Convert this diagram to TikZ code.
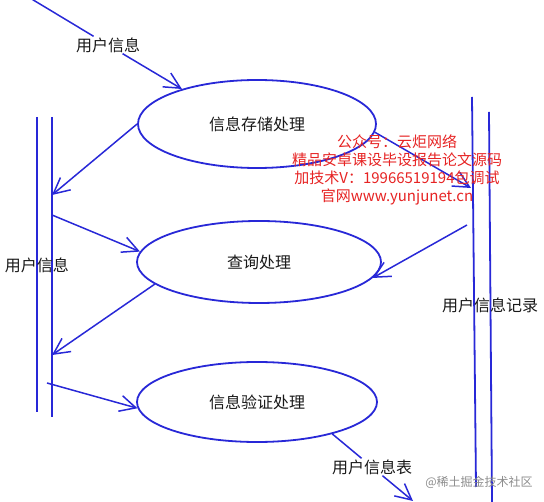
\documentclass[tikz,border=0pt]{standalone}
\usepackage{fontspec}
\usetikzlibrary{shapes.geometric,arrows.meta}
\newfontfamily\cjkfont{Noto Sans CJK SC}
\definecolor{flowblue}{RGB}{40,40,215}
\definecolor{adred}{RGB}{230,35,35}
\tikzset{
  proc/.style={ellipse,draw=flowblue,line width=1.8pt,minimum width=240pt,minimum height=80pt,inner sep=0pt,text=black!90,font=\cjkfont\fontsize{16}{18}\selectfont},
  bar/.style={draw=flowblue,line width=1.8pt},
  flow/.style={draw=flowblue,line width=1.5pt,-{Straight Barb[length=16pt,width=16pt]}},
  lbl/.style={inner sep=1pt,text=black!90,font=\cjkfont\fontsize{16}{18}\selectfont}
}
\begin{document}
\begin{tikzpicture}[x=1pt,y=-1pt]
\useasboundingbox (0,0) rectangle (544,502);
% Drawing processes
\node[proc,minimum width=238pt,minimum height=88pt] (store) at (257,124) {信息存储处理};
\node[proc,minimum width=244pt,minimum height=82pt] (query) at (259,262) {查询处理};
\node[proc] (check) at (257,402) {信息验证处理};
% Done with processes; drawing data stores
\draw[bar] (37,117) -- (37,412);
\draw[bar] (52,117) -- (52,417);
\draw[bar] (472,97) -- (476,487);
\draw[bar] (489,112) -- (492,502);
\node[lbl] (userbar) at (37,265) {用户信息};
\node[lbl] (recbar) at (490,305) {用户信息记录};
% Done with stores; drawing flows
\coordinate (userin) at (20,-8);
\coordinate (leftA) at (52,195);
\coordinate (leftB) at (52,215);
\coordinate (leftC) at (52,355);
\coordinate (leftD) at (47,383);
\coordinate (rightA) at (471,188);
\coordinate (rightB) at (467,225);
\coordinate (tableout) at (413,501);
\node[lbl] (uinfo) at (108,45) {用户信息};
\node[lbl] (utable) at (372,467) {用户信息表};
% Line 1: user info in
\draw[flow,-] (userin) -- (uinfo);
\draw[flow] (uinfo) -- (store.155);
% Line 2: store
\draw[flow] (store.west) -- (leftA);
\draw[flow] (store.-4) -- (rightA);
% Line 3: query
\draw[flow] (leftB) -- (query.175);
\draw[flow] (query.-168) -- (leftC);
\draw[flow] (rightB) -- (query.-8);
% Line 4: check
\draw[flow] (leftD) -- (check.-177);
\draw[flow,-] (check.-23) -- (utable);
\draw[flow] (utable) -- (tableout);
% Done with flows; drawing marks
\node[align=center,text=adred,font=\cjkfont\fontsize{15}{18}\selectfont] (ad) at (397,170) {公众号：云炬网络\\精品安卓课设毕设报告论文源码\\加技术V：19966519194包调试\\官网www.yunjunet.cn};
\node[text=black!45,font=\cjkfont\fontsize{12}{14}\selectfont] (site) at (479,482) {@稀土掘金技术社区};
\end{tikzpicture}
\end{document}
